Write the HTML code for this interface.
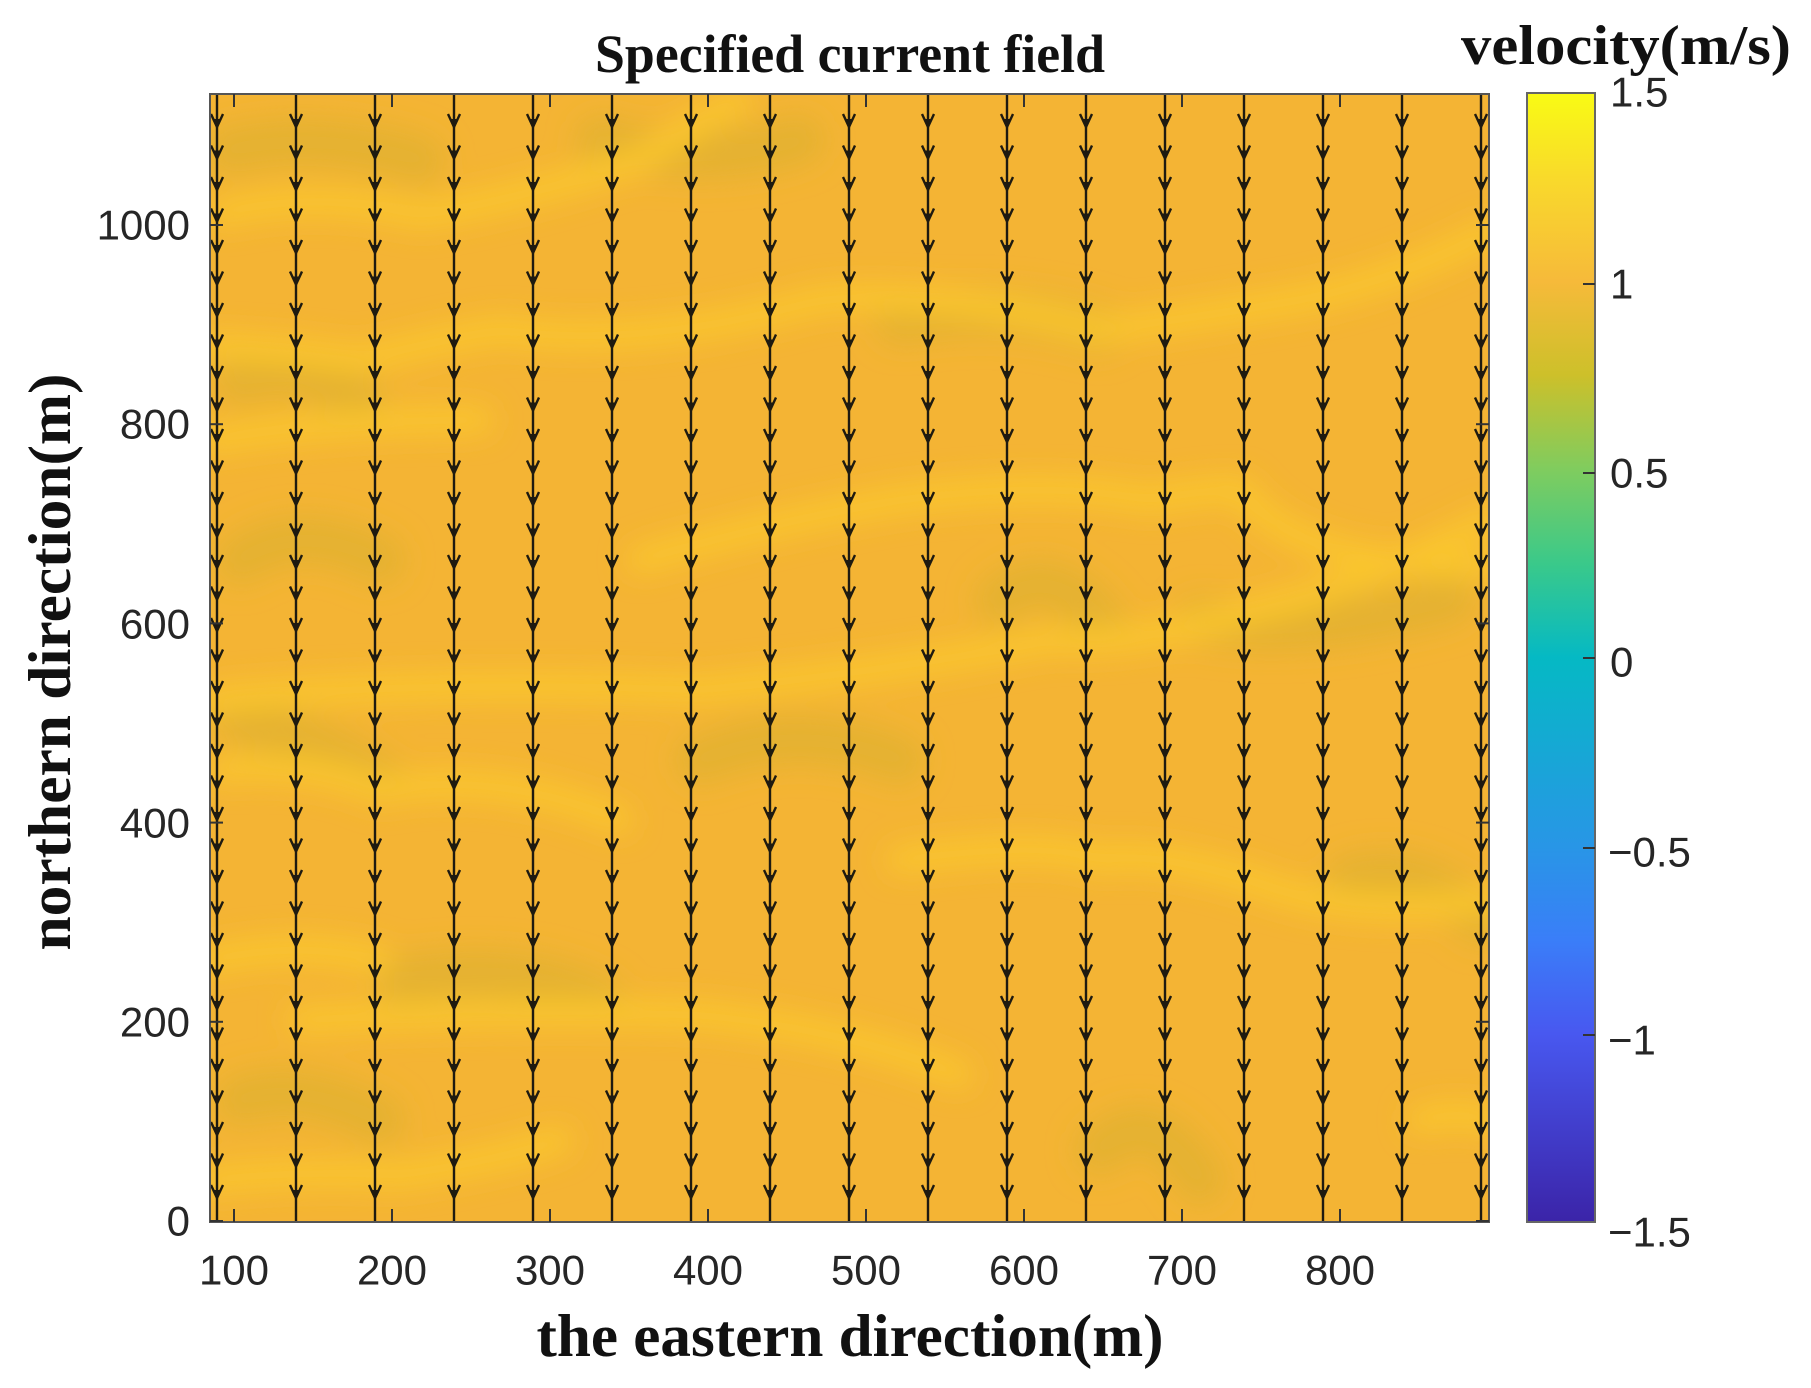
<!DOCTYPE html>
<html><head><meta charset="utf-8"><style>
html,body{margin:0;padding:0;background:#fff;}
svg{display:block;}
</style></head><body>
<svg id="s" width="1811" height="1388" viewBox="0 0 1811 1388" xmlns="http://www.w3.org/2000/svg">
<defs>
<clipPath id="pc"><rect x="210" y="94" width="1279" height="1128"/></clipPath>
<filter id="bl" x="-10%" y="-10%" width="120%" height="120%"><feGaussianBlur stdDeviation="14"/></filter>
<linearGradient id="cb" x1="0" y1="0" x2="0" y2="1">
<stop offset="0" stop-color="#f9fb14"/>
<stop offset="0.08" stop-color="#f9d82c"/>
<stop offset="0.167" stop-color="#f6ba3a"/>
<stop offset="0.25" stop-color="#cdc02a"/>
<stop offset="0.333" stop-color="#80cc5e"/>
<stop offset="0.417" stop-color="#3ac98a"/>
<stop offset="0.5" stop-color="#05b9c4"/>
<stop offset="0.667" stop-color="#2896e6"/>
<stop offset="0.75" stop-color="#3a7ef8"/>
<stop offset="0.833" stop-color="#4858f0"/>
<stop offset="1" stop-color="#3b24a8"/>
</linearGradient>
</defs>
<g clip-path="url(#pc)">
<rect x="210" y="94" width="1279" height="1128" fill="#f4b434"/>
<g filter="url(#bl)" fill="none" stroke-linecap="round">
<g stroke="#e2b230" stroke-width="50" opacity="0.8">
<path d="M230 150 Q320 130 420 160"/>
<path d="M600 140 Q700 170 800 140"/>
<path d="M240 380 Q300 360 360 400"/>
<path d="M900 320 Q1000 300 1100 330"/>
<path d="M240 560 Q300 520 380 560"/>
<path d="M1000 600 Q1050 560 1100 620"/>
<path d="M700 760 Q800 720 900 760"/>
<path d="M240 720 Q320 740 380 780"/>
<path d="M1200 620 Q1300 640 1450 600"/>
<path d="M400 980 Q520 960 600 1000"/>
<path d="M1100 1150 Q1150 1100 1200 1180"/>
<path d="M240 1100 Q300 1080 380 1120"/>
<path d="M1350 880 Q1420 860 1480 920"/>
</g>
<g stroke="#fac62e" stroke-width="26">
<path d="M220 213 Q320 190 420 215 Q520 200 640 160 Q700 120 740 100"/>
<path d="M210 346 Q300 350 360 360 Q440 340 500 330 Q640 350 820 300 Q950 290 1100 330 Q1180 320 1300 300 Q1400 280 1489 232"/>
<path d="M210 440 Q330 420 480 420"/>
<path d="M640 560 Q780 520 900 500 Q1050 480 1150 500 Q1200 490 1240 490 Q1300 570 1489 565"/>
<path d="M210 700 Q400 680 700 690 Q900 670 1050 640 Q1150 645 1250 610 Q1350 590 1489 520"/>
<path d="M220 770 Q300 760 380 790 Q500 770 620 820"/>
<path d="M900 860 Q1050 840 1100 860 Q1150 850 1250 880 Q1350 920 1489 900"/>
<path d="M210 960 Q300 940 380 960"/>
<path d="M300 1020 Q500 1010 700 1015 Q850 1030 960 1075"/>
<path d="M210 1180 Q300 1170 400 1175 Q500 1160 560 1140"/>
<path d="M1420 1120 Q1460 1110 1489 1120"/>
</g>
</g>
<g id="arrows" stroke="#1e1a10" stroke-width="2.4" fill="#1e1a10"></g>
</g>
<rect x="210" y="94" width="1279" height="1128" fill="none" stroke="#555" stroke-width="2"/>
<g id="ticks" stroke="#333" stroke-width="2"></g>
<rect x="1527" y="93" width="68" height="1129" fill="url(#cb)" stroke="#666" stroke-width="2"/>
<g stroke="#333" stroke-width="2">
<line x1="1583" y1="284" x2="1595" y2="284"/>
<line x1="1583" y1="473" x2="1595" y2="473"/>
<line x1="1583" y1="658" x2="1595" y2="658"/>
<line x1="1583" y1="848" x2="1595" y2="848"/>
<line x1="1583" y1="1035" x2="1595" y2="1035"/>
</g>
<g font-family="Liberation Sans, sans-serif" font-size="42" fill="#262626">
<g text-anchor="end" dominant-baseline="central">
<text x="190" y="1221">0</text>
<text x="190" y="1022">200</text>
<text x="190" y="823">400</text>
<text x="190" y="624">600</text>
<text x="190" y="424">800</text>
<text x="190" y="225">1000</text>
</g>
<g text-anchor="middle" dominant-baseline="central">
<text x="234" y="1270">100</text>
<text x="392" y="1270">200</text>
<text x="550" y="1270">300</text>
<text x="708" y="1270">400</text>
<text x="866" y="1270">500</text>
<text x="1024" y="1270">600</text>
<text x="1182" y="1270">700</text>
<text x="1340" y="1270">800</text>
</g>
<g dominant-baseline="central">
<text x="1610" y="92">1.5</text>
<text x="1610" y="284">1</text>
<text x="1610" y="473">0.5</text>
<text x="1610" y="662">0</text>
<text x="1608" y="852">−0.5</text>
<text x="1608" y="1040">−1</text>
<text x="1608" y="1232">−1.5</text>
</g>
</g>
<g font-family="Liberation Serif, serif" font-weight="bold" fill="#111">
<text x="850" y="72" font-size="54" text-anchor="middle" textLength="510" lengthAdjust="spacingAndGlyphs">Specified current field</text>
<text x="1626" y="64" font-size="56" text-anchor="middle" textLength="330" lengthAdjust="spacingAndGlyphs">velocity(m/s)</text>
<text x="850" y="1356" font-size="60" text-anchor="middle" textLength="627" lengthAdjust="spacingAndGlyphs">the eastern direction(m)</text>
<text transform="translate(70,662) rotate(-90)" font-size="60" text-anchor="middle" textLength="577" lengthAdjust="spacingAndGlyphs">northern direction(m)</text>
</g>
</svg>
<script>
var g=document.getElementById("arrows");
var h="";
for(var i=0;i<17;i++){
  var x=217+79*i;
  h+='<line x1="'+x+'" y1="94" x2="'+x+'" y2="1222"/>';
  for(var y=127;y<1225;y+=31.5){
    h+='<path d="M'+(x-6)+' '+(y-13)+' L'+x+' '+y+' L'+(x+6)+' '+(y-13)+'" fill="none"/>';
    h+='<path d="M'+(x-3.5)+' '+(y-8)+' L'+x+' '+y+' L'+(x+3.5)+' '+(y-8)+' Z" stroke="none"/>';
  }
}
g.innerHTML=h;
var t=document.getElementById("ticks");var th="";
for(var v=100;v<=800;v+=100){var xx=234+(v-100)*1.58;
 th+='<line x1="'+xx+'" y1="1222" x2="'+xx+'" y2="1209"/><line x1="'+xx+'" y1="94" x2="'+xx+'" y2="107"/>';}
for(var v=0;v<=1000;v+=200){var yy=1221-v*0.996;
 th+='<line x1="210" y1="'+yy+'" x2="223" y2="'+yy+'"/><line x1="1489" y1="'+yy+'" x2="1476" y2="'+yy+'"/>';}
t.innerHTML=th;
</script>
</body></html>
